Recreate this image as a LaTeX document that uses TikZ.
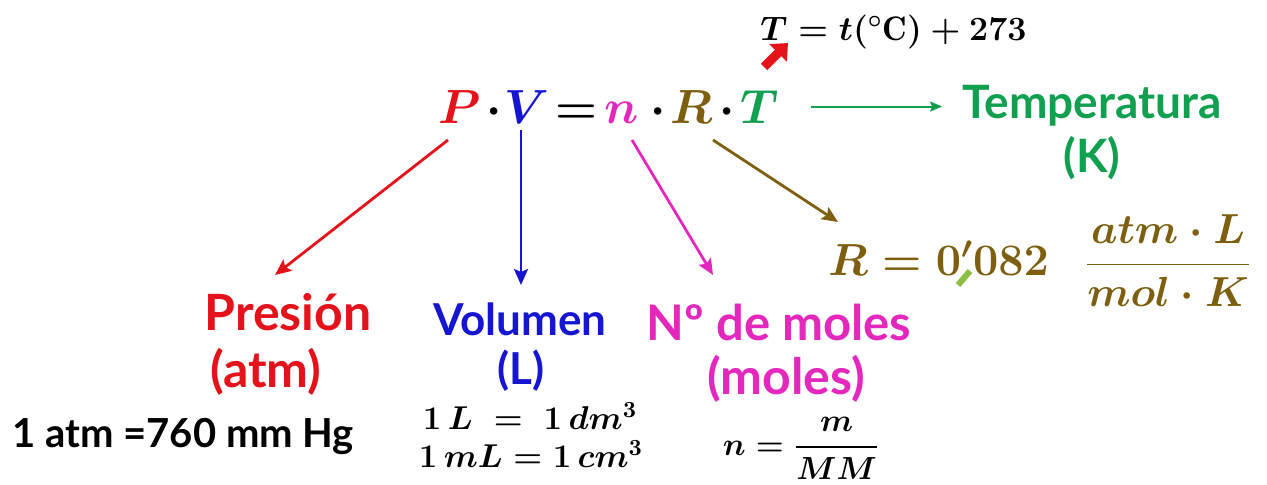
\RequirePackage{fix-cm}
\documentclass[tikz,border=0pt]{standalone}
\usepackage{amsmath}
\usepackage{fontspec}
\newfontfamily\lbl{Lato}
\usetikzlibrary{arrows.meta,calc}
\definecolor{cred}{RGB}{228,18,26}
\definecolor{cblue}{RGB}{22,22,210}
\definecolor{cmag}{RGB}{228,40,190}
\definecolor{colive}{RGB}{125,95,15}
\definecolor{cgreen}{RGB}{16,160,80}
\definecolor{cstroke}{RGB}{140,190,70}
\tikzset{
  eq/.style={inner sep=0pt, anchor=base, font=\fontsize{#1}{#1}\selectfont\boldmath},
  eq/.default=24,
  lab/.style={inner sep=0pt, anchor=base, font=\lbl\bfseries\fontsize{#1}{#1}\selectfont},
  lab/.default=21,
  arr/.style={line width=1.4pt, -{Stealth[length=8pt,width=7pt,inset=1.5pt]}},
}
\begin{document}
\begin{tikzpicture}[x=0.5pt,y=-0.5pt]
\fill[white] (0,0) rectangle (1267,484);
\useasboundingbox (0,0) rectangle (1267,484);
% top formula
\node[eq=17, anchor=base west] (tf) at (760,40) {$T = t(^{\circ}\mathrm{C}) + 273$};
\draw[cred, line width=4.5pt, -{Triangle[length=7pt,width=12pt]}]
  ($(tf.base west)+(4,27)$) -- ($(tf.base west)+(28,3)$);
% main equation
\node[eq, cred] (P) at (460,123) {$P$};
\node[eq] (d1) at (494,123) {$\cdot$};
\node[eq, cblue] (V) at (527,123) {$V$};
\node[eq] (eqs) at (576,123) {$=$};
\node[eq, cmag] (n) at (622,123) {$n$};
\node[eq] (d2) at (658,123) {$\cdot$};
\node[eq, colive] (R) at (692,123) {$R$};
\node[eq] (d3) at (727,123) {$\cdot$};
\node[eq, cgreen] (T) at (760,123) {$T$};
% temperature
\node[lab=23, cgreen] (temp) at (1092,118) {Temperatura};
\node[lab=23, cgreen] (tempu) at (1092,172) {(K)};
\draw[arr, cgreen, line width=1pt, -{Stealth[length=6pt,width=5pt,inset=1pt]}]
  ($(T.east)+(31,0)$) -- ($(temp.west|-T.east)+(-20,0)$);
% R constant
\node[eq=22.5, colive, anchor=base west] (Rf) at (828,275) {$R = 0'082$};
\node[eq=21, colive] (Rfrac) at (1168,275) {$\dfrac{atm\cdot L}{mol\cdot K}$};
\draw[cstroke, line width=3pt] ($(Rf.base west)+(130,10)$) -- ($(Rf.base west)+(142,-4)$);
% labels
\node[lab=25, cred] (pres) at (288,330) {Presión};
\node[lab=25, cred] (presu) at (266,387) {(atm)};
\node[lab=22, cblue] (vol) at (520,335) {Volumen};
\node[lab=22, cblue] (volu) at (521,384) {(L)};
\node[lab=24.5, cmag] (mol) at (779,340) {Nº de moles};
\node[lab=25, cmag] (molu) at (786,394) {(moles)};
\node[lab=20, anchor=base west] (atm) at (12,447) {1 atm =760 mm Hg};
\node[eq=16.5] (l1) at (530,429) {$1\,L\;=\;1\,dm^3$};
\node[eq=16.5] (l2) at (531,467) {$1\,mL = 1\,cm^3$};
\node[eq=16] (nf) at (801,455) {$n = \dfrac{m}{MM}$};
% connectors
\draw[arr, cred] ($(P.base)+(-12,17)$) -- ($(pres.base)+(-13,-55)$);
\draw[arr, cblue] ($(V.base)+(-6,7)$) -- ($(vol.base)+(1,-50)$);
\draw[arr, cmag] ($(n.base)+(10,17)$) -- ($(mol.base)+(-66,-65)$);
\draw[arr, colive] ($(R.base)+(21,17)$) -- ($(Rf.base west)+(10,-53)$);
\end{tikzpicture}
\end{document}
